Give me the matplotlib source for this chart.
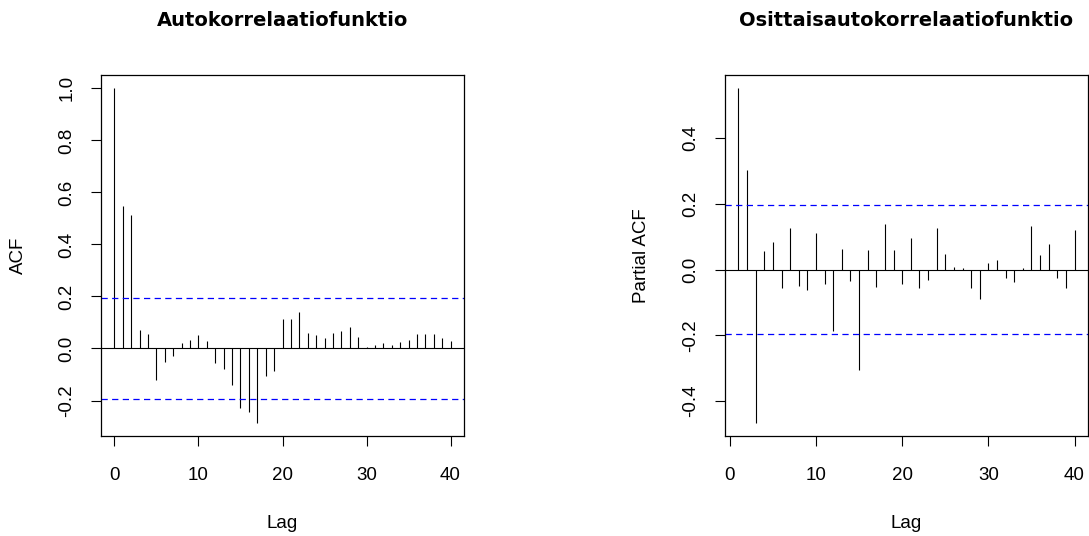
import numpy as np
import matplotlib
matplotlib.use("Agg")
import matplotlib.pyplot as plt

plt.rcParams['font.family'] = ['Liberation Sans', 'DejaVu Sans']

# ACF values, lags 0..40
acf_lags = list(range(0, 41))
acf_vals = [1.000, 0.549, 0.512, 0.070, 0.055, -0.120, -0.051, -0.028, 0.023, 0.032,
            0.051, 0.029, -0.054, -0.080, -0.140, -0.228, -0.245, -0.285, -0.104, -0.085,
            0.112, 0.112, 0.141, 0.061, 0.051, 0.039, 0.061, 0.068, 0.082, 0.045,
            0.004, 0.015, 0.023, 0.015, 0.024, 0.032, 0.055, 0.055, 0.054, 0.042,
            0.029]

# PACF values, lags 1..40
pacf_lags = list(range(1, 41))
pacf_vals = [0.551, 0.302, -0.465, 0.058, 0.083, -0.057, 0.127, -0.049, -0.062, 0.111,
             -0.045, -0.185, 0.063, -0.036, -0.306, 0.061, -0.054, 0.138, 0.060, -0.045,
             0.097, -0.057, -0.030, 0.127, 0.048, 0.008, 0.006, -0.057, -0.090, 0.020,
             0.029, -0.024, -0.038, 0.006, 0.132, 0.046, 0.077, -0.024, -0.055, 0.122]

n_obs = 100
conf = 1.96 / np.sqrt(n_obs)

W, H = 1089, 536
fig = plt.figure(figsize=(W / 100, H / 100), dpi=100)


def r_range(lo, hi):
    # R style 4% padding
    d = (hi - lo) * 0.04
    return lo - d, hi + d


def panel(left_px, right_px, lags, vals, yticks, title, ylab):
    top_px, bot_px = 75, 436
    ax = fig.add_axes([left_px / W, 1 - bot_px / H,
                       (right_px - left_px) / W, (bot_px - top_px) / H])
    ax.vlines(lags, 0, vals, color='black', linewidth=0.8)
    ax.axhline(0, color='black', linewidth=0.8)
    for c in (conf, -conf):
        ax.axhline(c, color='blue', linewidth=0.9, linestyle=(0, (5, 3.5)))
    ax.set_xlim(*r_range(min(lags), max(lags)))
    ax.set_ylim(*r_range(min(vals), max(vals)))
    ax.set_xticks([0, 10, 20, 30, 40])
    ax.set_yticks(yticks)
    ax.set_yticklabels([f"{t:.1f}" for t in yticks])
    for s in ax.spines.values():
        s.set_linewidth(0.9)
    ax.tick_params(length=7.5, width=0.8, labelsize=13.5)
    ax.tick_params(axis='x', pad=14.5)
    ax.tick_params(axis='y', pad=11)
    for lab in ax.get_yticklabels():
        lab.set_rotation(90)
        lab.set_va('center')
    cx = (left_px + right_px) / 2
    fig.text(cx / W, 1 - 20 / H, title, ha='center', va='center',
             fontsize=14, fontweight='bold', family='DejaVu Sans')
    fig.text(cx / W, 1 - 523 / H, 'Lag', ha='center', va='center', fontsize=13.5)
    fig.text((left_px - 83) / W, 1 - (top_px + bot_px) / 2 / H, ylab,
             ha='center', va='center', rotation=90, fontsize=13.5)
    return ax


panel(101, 464, acf_lags, acf_vals, [-0.2, 0.0, 0.2, 0.4, 0.6, 0.8, 1.0],
      'Autokorrelaatiofunktio', 'ACF')
panel(725, 1088, pacf_lags, pacf_vals, [-0.4, -0.2, 0.0, 0.2, 0.4],
      'Osittaisautokorrelaatiofunktio', 'Partial ACF')

fig.savefig('out.png', dpi=100)
